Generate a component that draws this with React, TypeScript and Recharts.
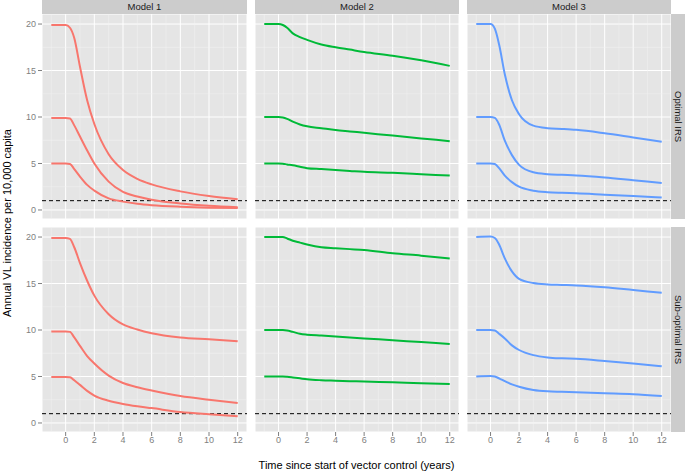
import React from "react";
import { CartesianGrid, Line, LineChart, ReferenceLine, XAxis, YAxis } from "recharts";

// years since start of vector control (sample times)
const TIMES = [-1, 0, 0.3, 0.6, 1, 1.5, 2, 3, 4, 5, 6, 8, 10, 12];

const MODELS = ["Model 1", "Model 2", "Model 3"];
const SCENARIOS = ["Optimal IRS", "Sub-optimal IRS"];
const COLORS = ["#F8766D", "#00BA38", "#619CFF"];

// annual VL incidence per 10,000 — starting at 20, 10 and 5
const m1OptHigh = [19.9, 19.9, 19.6, 18.5, 15.4, 11.8, 9.25, 6.0, 4.3, 3.35, 2.75, 2.0, 1.5, 1.15];
const m1OptMid = [9.9, 9.9, 9.85, 9.1, 7.9, 6.4, 5.0, 3.05, 1.95, 1.45, 1.1, 0.7, 0.45, 0.3];
const m1OptLow = [5.0, 5.0, 4.95, 4.4, 3.6, 2.7, 2.08, 1.25, 0.9, 0.67, 0.52, 0.35, 0.25, 0.2];

const m1SubHigh = [19.9, 19.9, 19.8, 18.9, 17.2, 15.3, 13.7, 11.7, 10.6, 10.05, 9.65, 9.2, 9.0, 8.8];
const m1SubMid = [9.85, 9.85, 9.8, 9.2, 8.3, 7.2, 6.4, 5.1, 4.3, 3.85, 3.5, 2.9, 2.5, 2.15];
const m1SubLow = [4.95, 4.95, 4.92, 4.6, 4.1, 3.45, 2.95, 2.4, 2.05, 1.8, 1.6, 1.18, 0.93, 0.72];

const m2OptHigh = [20, 20, 19.9, 19.6, 19.0, 18.6, 18.3, 17.8, 17.5, 17.25, 17.0, 16.6, 16.1, 15.5];
const m2OptMid = [10, 10, 9.95, 9.8, 9.5, 9.2, 9.0, 8.8, 8.6, 8.45, 8.3, 8.0, 7.7, 7.4];
const m2OptLow = [5, 5, 4.98, 4.9, 4.8, 4.65, 4.5, 4.4, 4.3, 4.2, 4.1, 4.0, 3.85, 3.7];

const m2SubHigh = [20, 20, 20, 19.85, 19.6, 19.4, 19.2, 18.9, 18.8, 18.7, 18.6, 18.25, 18.0, 17.7];
const m2SubMid = [10, 10, 10, 9.95, 9.8, 9.6, 9.5, 9.4, 9.3, 9.2, 9.1, 8.9, 8.7, 8.5];
const m2SubLow = [5, 5, 5, 4.97, 4.9, 4.8, 4.7, 4.6, 4.55, 4.5, 4.45, 4.37, 4.27, 4.2];

const m3OptHigh = [20, 20, 19.5, 17.8, 14.6, 11.8, 10.3, 9.07, 8.8, 8.72, 8.62, 8.25, 7.8, 7.35];
const m3OptMid = [10, 10, 9.9, 9.2, 7.45, 5.9, 4.85, 4.05, 3.85, 3.78, 3.72, 3.5, 3.2, 2.9];
const m3OptLow = [5, 5, 4.95, 4.5, 3.7, 3.0, 2.5, 2.08, 1.92, 1.85, 1.8, 1.65, 1.5, 1.33];

const m3SubHigh = [20, 20.05, 19.9, 19.2, 17.7, 16.3, 15.5, 15.05, 14.9, 14.85, 14.8, 14.6, 14.3, 14.0];
const m3SubMid = [10, 10, 9.95, 9.6, 9.1, 8.35, 7.85, 7.3, 7.05, 6.95, 6.9, 6.67, 6.4, 6.1];
const m3SubLow = [5, 5.05, 5.0, 4.8, 4.5, 4.15, 3.9, 3.55, 3.4, 3.35, 3.3, 3.2, 3.1, 2.9];

const THRESHOLD = 1; // elimination target

const X_TICKS = [0, 2, 4, 6, 8, 10, 12];
const X_MINOR = [-1, 1, 3, 5, 7, 9, 11];
const Y_TICKS = [0, 5, 10, 15, 20];
const Y_MINOR = [2.5, 7.5, 12.5, 17.5];

// [row][col] -> three curves
const FACETS = [
  [
    [m1OptHigh, m1OptMid, m1OptLow],
    [m2OptHigh, m2OptMid, m2OptLow],
    [m3OptHigh, m3OptMid, m3OptLow],
  ],
  [
    [m1SubHigh, m1SubMid, m1SubLow],
    [m2SubHigh, m2SubMid, m2SubLow],
    [m3SubHigh, m3SubMid, m3SubLow],
  ],
];

// panel layout (px, page coords)
const COL_X = [42, 255, 467];
const COL_W = [205, 204, 204];
const ROW_Y = [14, 227];
const PANEL_H = 205;
const Y_AXIS_W = 36;
const X_AXIS_H = 22;
const STRIP = 14;
const X_DOMAIN = [-1.65, 12.65];
const Y_DOMAIN = [-0.97, 21.08];

const AXIS_GREY = "#7F7F7F";

function Facet({ row, col }: { row: number; col: number }) {
  const showY = col === 0;
  const showX = row === 1;
  const curves = FACETS[row][col];
  const data = TIMES.map((t, i) => ({
    t,
    high: curves[0][i],
    mid: curves[1][i],
    low: curves[2][i],
  }));
  const color = COLORS[col];
  const w = COL_W[col] + (showY ? Y_AXIS_W : 0);
  const h = PANEL_H + (showX ? X_AXIS_H : 0);

  return (
    <div
      style={{
        position: "absolute",
        left: COL_X[col] - (showY ? Y_AXIS_W : 0),
        top: ROW_Y[row],
      }}
    >
      <LineChart width={w} height={h} data={data} margin={{ top: 0, right: 0, bottom: 0, left: 0 }}>
        <CartesianGrid fill="#E5E5E5" stroke="#FFFFFF" strokeWidth={1} />
        {X_MINOR.map((x) => (
          <ReferenceLine key={`vx${x}`} x={x} stroke="#F2F2F2" strokeWidth={0.5} />
        ))}
        {Y_MINOR.map((y) => (
          <ReferenceLine key={`hy${y}`} y={y} stroke="#F2F2F2" strokeWidth={0.5} />
        ))}
        <XAxis
          dataKey="t"
          type="number"
          domain={X_DOMAIN}
          ticks={X_TICKS}
          allowDataOverflow
          hide={!showX}
          height={X_AXIS_H}
          axisLine={false}
          tickSize={4}
          tickMargin={1}
          tickLine={{ stroke: AXIS_GREY }}
          tick={{ fill: AXIS_GREY, fontSize: 9 }}
        />
        <YAxis
          type="number"
          domain={Y_DOMAIN}
          ticks={Y_TICKS}
          allowDataOverflow
          hide={!showY}
          width={Y_AXIS_W}
          axisLine={false}
          tickSize={4}
          tickMargin={2}
          tickLine={{ stroke: AXIS_GREY }}
          tick={{ fill: AXIS_GREY, fontSize: 9 }}
        />
        <ReferenceLine y={THRESHOLD} stroke="#000000" strokeWidth={1} strokeDasharray="4 3" />
        {["high", "mid", "low"].map((k) => (
          <Line
            key={k}
            type="monotone"
            dataKey={k}
            stroke={color}
            strokeWidth={2}
            dot={false}
            isAnimationActive={false}
          />
        ))}
      </LineChart>
    </div>
  );
}

export default function App() {
  return (
    <div
      style={{
        position: "absolute",
        left: 0,
        top: 0,
        width: 685,
        height: 474,
        background: "#FFFFFF",
        fontFamily: "'Liberation Sans', Arial, sans-serif",
        overflow: "hidden",
      }}
    >
      {/* column strips */}
      {MODELS.map((m, c) => (
        <div
          key={m}
          style={{
            position: "absolute",
            left: COL_X[c],
            top: 0,
            width: COL_W[c],
            height: STRIP,
            background: "#CCCCCC",
            color: "#1A1A1A",
            fontSize: 9.5,
            lineHeight: `${STRIP}px`,
            textAlign: "center",
          }}
        >
          {m}
        </div>
      ))}
      {/* row strips */}
      {SCENARIOS.map((s, r) => (
        <div
          key={s}
          style={{
            position: "absolute",
            left: 671,
            top: ROW_Y[r],
            width: STRIP,
            height: PANEL_H,
            background: "#CCCCCC",
            color: "#1A1A1A",
            fontSize: 9.5,
            display: "flex",
            alignItems: "center",
            justifyContent: "center",
          }}
        >
          <span style={{ writingMode: "vertical-rl" }}>{s}</span>
        </div>
      ))}
      {[0, 1].map((r) => [0, 1, 2].map((c) => <Facet key={`${r}-${c}`} row={r} col={c} />))}
      <div
        style={{
          position: "absolute",
          left: 42,
          width: 629,
          top: 459,
          textAlign: "center",
          fontSize: 11,
          color: "#000",
        }}
      >
        Time since start of vector control (years)
      </div>
      <div
        style={{
          position: "absolute",
          left: 7,
          top: 223,
          transform: "translate(-50%, -50%) rotate(-90deg)",
          whiteSpace: "nowrap",
          fontSize: 11,
          color: "#000",
        }}
      >
        Annual VL incidence per 10,000 capita
      </div>
    </div>
  );
}
